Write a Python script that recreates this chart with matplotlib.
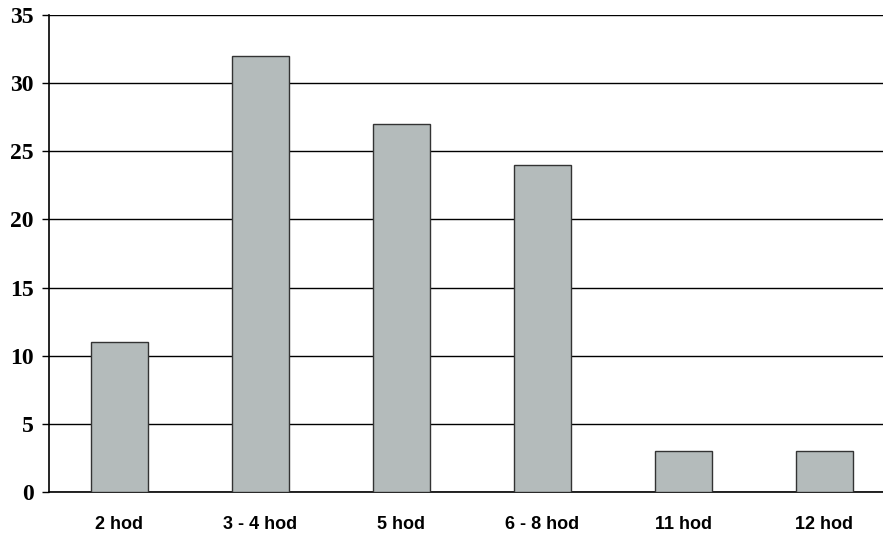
import matplotlib.pyplot as plt

categories = ['2 hod', '3 - 4 hod', '5 hod', '6 - 8 hod', '11 hod', '12 hod']
values = [11, 32, 27, 24, 3, 3]
y_ticks = [0, 5, 10, 15, 20, 25, 30, 35]

fig = plt.figure(figsize=(8.83, 5.34), dpi=100)
ax = fig.add_axes([0.0555, 0.0787, 0.958, 0.8932])

ax.bar(range(len(categories)), values, width=0.4, color='#B4BBBB',
       edgecolor='#333333', linewidth=1.0, zorder=3)

ax.set_xlim(-0.5, len(categories) - 0.5)
ax.set_ylim(0, 35)
ax.set_yticks(y_ticks)
ax.set_yticklabels([str(t) for t in y_ticks], family='Liberation Serif',
                   fontweight='bold', fontsize=17)
ax.set_xticks(range(len(categories)))
ax.set_xticklabels(categories, family='Liberation Sans', fontweight='bold', fontsize=13)

ax.tick_params(axis='x', length=0, pad=17)
ax.tick_params(axis='y', length=5, width=1, color='black', pad=6)

ax.grid(axis='y', color='black', linewidth=1.0, zorder=0)
ax.spines['top'].set_visible(False)
ax.spines['right'].set_visible(False)
ax.spines['left'].set_linewidth(1.2)
ax.spines['bottom'].set_linewidth(1.2)

plt.savefig('out.png', dpi=100)
